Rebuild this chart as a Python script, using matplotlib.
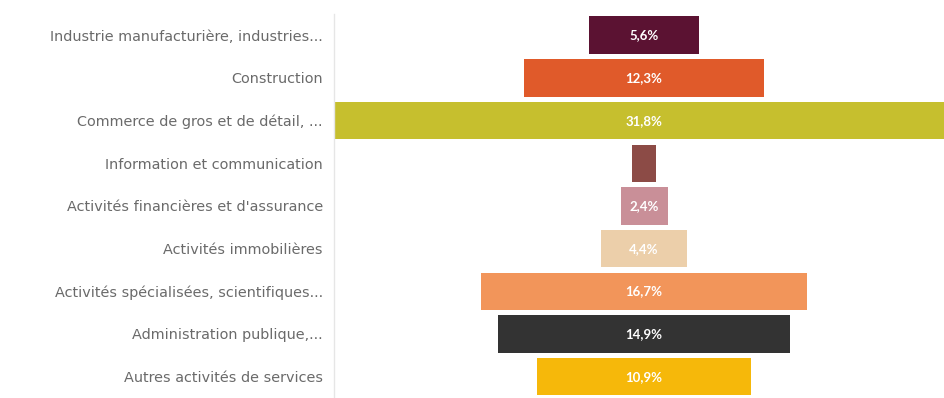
import matplotlib
matplotlib.use("Agg")
import matplotlib.pyplot as plt

# share of employment by sector, drawn as a centred funnel
sectors = [
    "Industrie manufacturière, industries...",
    "Construction",
    "Commerce de gros et de détail, ...",
    "Information et communication",
    "Activités financières et d'assurance",
    "Activités immobilières",
    "Activités spécialisées, scientifiques...",
    "Administration publique,...",
    "Autres activités de services",
]
shares = [5.6, 12.3, 31.8, 1.2, 2.4, 4.4, 16.7, 14.9, 10.9]
labels = ["5,6%", "12,3%", "31,8%", "", "2,4%", "4,4%", "16,7%", "14,9%", "10,9%"]
colors = ["#5b1232", "#e05a2a", "#c6bf2e", "#8c4b46", "#c98f98",
          "#eccfaa", "#f2955a", "#333333", "#f6b80a"]

plt.rcParams["font.family"] = ["DejaVu Sans"]

fig = plt.figure(figsize=(9.44, 3.98), dpi=100)
# axes run past the right edge, so the widest bar is cut off
ax = fig.add_axes([334 / 944, 0.0, 624 / 944, 0.965])

centre = 15.85
y = list(range(len(sectors)))
lefts = [centre - s / 2 for s in shares]
ax.barh(y, shares, left=lefts, height=0.88, color=colors)

for yi, s, lab in zip(y, shares, labels):
    ax.text(centre, yi, lab, ha="center", va="center", color="white",
            fontsize=9.5, fontweight="bold", family="Lato")

ax.set_xlim(0, 31.9)
ax.set_ylim(len(sectors) - 0.5, -0.5)
ax.set_yticks(y)
ax.set_yticklabels(sectors, fontsize=10.4, color="#6a6a6a")
ax.tick_params(axis="y", length=0, pad=8)
ax.set_xticks([])

for side in ["top", "right", "bottom"]:
    ax.spines[side].set_visible(False)
ax.spines["left"].set_color("#e6e6e6")
ax.spines["left"].set_linewidth(1)

fig.savefig("out.png", dpi=100)
